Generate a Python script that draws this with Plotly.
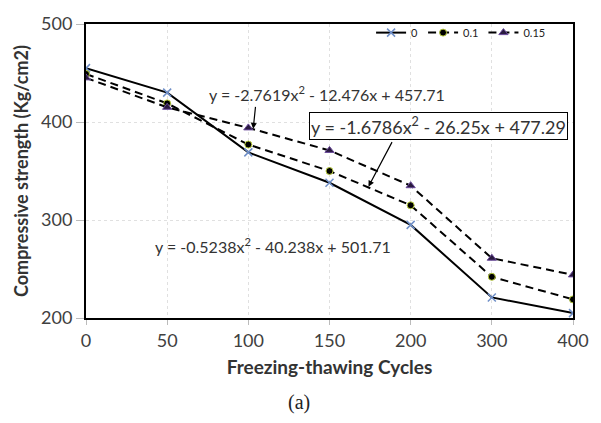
import plotly.graph_objects as go

cycles = ["0", "50", "100", "150", "200", "300", "400"]
s0 = [455, 430, 369, 338, 295, 221, 205]
s01 = [449, 419, 377, 350, 315, 242, 219]
s015 = [445, 415, 394, 371, 335, 261, 244]
names = ["0", "0.1", "0.15"]

xi = list(range(len(cycles)))
fig = go.Figure()
fig.add_trace(go.Scatter(x=xi, y=s0, name=names[0], mode="lines+markers",
                         line=dict(color="black", width=2),
                         marker=dict(symbol="x-thin", size=8, line=dict(color="#6f8fc8", width=1.5))))
fig.add_trace(go.Scatter(x=xi, y=s01, name=names[1], mode="lines+markers",
                         line=dict(color="black", width=2, dash="8px,5px"),
                         marker=dict(symbol="circle", size=7, color="black", line=dict(color="#b9cc3c", width=1))))
fig.add_trace(go.Scatter(x=xi, y=s015, name=names[2], mode="lines+markers",
                         line=dict(color="black", width=2, dash="8px,5px"),
                         marker=dict(symbol="triangle-up", size=8, color="#2a1a40", line=dict(color="#6a4a9a", width=1))))

tickfont = dict(family="Lato, Open Sans, sans-serif", size=18, color="#404040")
fig.update_layout(
    width=601, height=423,
    margin=dict(l=86, r=16, t=15, b=105),
    paper_bgcolor="white", plot_bgcolor="white",
    showlegend=True,
    legend=dict(orientation="h", x=0.955, y=1.02, xanchor="right", yanchor="top",
                font=dict(family="Lato, sans-serif", size=11, color="#222"),
                bgcolor="rgba(0,0,0,0)", itemwidth=30, tracegroupgap=0),
    xaxis=dict(tickmode="array", tickvals=xi, ticktext=cycles, range=[0, 6],
               showline=True, linecolor="black", linewidth=2, mirror=True,
               showgrid=True, gridcolor="#e0e0e0", griddash="dot", gridwidth=1,
               ticks="outside", ticklen=5, tickcolor="#bbb",
               tickfont=tickfont, zeroline=False,
               title=dict(text="<b>Freezing-thawing Cycles</b>",
                          font=dict(family="Lato, sans-serif", size=19, color="#333"), standoff=11)),
    yaxis=dict(range=[200, 500], tickvals=[200, 300, 400, 500],
               showline=True, linecolor="black", linewidth=2, mirror=True,
               showgrid=True, gridcolor="#e0e0e0", griddash="dot", gridwidth=1,
               ticks="outside", ticklen=8, tickcolor="#bbb",
               tickfont=tickfont, zeroline=False,
               title=dict(text="<b>Compressive strength (Kg/cm2)</b>",
                          font=dict(family="Lato, sans-serif", size=18, color="#333"), standoff=8)),
)

eqfont = dict(family="Lato, Open Sans, sans-serif", size=16, color="#333")
fig.add_annotation(x=1.49, y=429, xref="x", yref="y", text="y = -2.7619x<sup>2</sup> - 12.476x + 457.71",
                   showarrow=False, xanchor="left", yanchor="middle", font=eqfont)
fig.add_annotation(x=2.75, y=395.5, xref="x", yref="y", text="y = -1.6786x<sup>2</sup> - 26.25x + 477.29",
                   showarrow=False, xanchor="left", yanchor="middle",
                   font=dict(family="Lato, Open Sans, sans-serif", size=18, color="#333"),
                   bordercolor="black", borderwidth=1, borderpad=1, bgcolor="white")
fig.add_annotation(x=0.83, y=274, xref="x", yref="y", text="y = -0.5238x<sup>2</sup> - 40.238x + 501.71",
                   showarrow=False, xanchor="left", yanchor="middle", font=eqfont)
# arrows
fig.add_annotation(x=2.06, y=393, ax=2.09, ay=417, xref="x", yref="y", axref="x", ayref="y",
                   text="", showarrow=True, arrowhead=2, arrowsize=1, arrowwidth=1.2, arrowcolor="black")
fig.add_annotation(x=3.48, y=334, ax=3.78, ay=381, xref="x", yref="y", axref="x", ayref="y",
                   text="", showarrow=True, arrowhead=2, arrowsize=1, arrowwidth=1.2, arrowcolor="black")

fig.add_annotation(x=0.438, y=-0.288, xref="paper", yref="paper", text="(a)", showarrow=False,
                   xanchor="center", yanchor="middle",
                   font=dict(family="Liberation Serif, DejaVu Serif, serif", size=20, color="#222"))

fig.write_html("out.html")
